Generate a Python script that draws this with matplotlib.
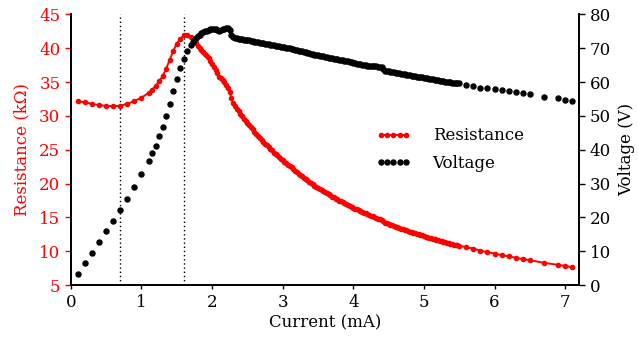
import matplotlib
matplotlib.use("Agg")
import matplotlib.pyplot as plt

# Data: sparse start, dense middle (every 0.025 mA), sparse tail
current_low = [0.1, 0.2, 0.3, 0.4, 0.5, 0.6, 0.7, 0.8, 0.9, 1.0, 1.1,
               1.15, 1.2, 1.25, 1.3, 1.35, 1.4, 1.45, 1.5, 1.55, 1.6, 1.65]
resistance_low = [32.2, 32.0, 31.8, 31.6, 31.5, 31.45, 31.5, 31.8, 32.2, 32.7, 33.4,
                  33.9, 34.4, 35.1, 35.9, 37.0, 38.3, 39.6, 40.7, 41.4, 41.9, 41.9]
voltage_low = [3.25, 6.5, 9.5, 12.7, 15.9, 19.0, 22.1, 25.4, 28.9, 32.8, 36.8,
               39.0, 41.2, 44.0, 46.8, 50.0, 53.6, 57.4, 61.0, 64.2, 66.9, 69.2]

current_mid = [
    1.700, 1.725, 1.750, 1.775, 1.800, 1.825, 1.850, 1.875, 1.900, 1.925,
    1.950, 1.975, 2.000, 2.025, 2.050, 2.075, 2.100, 2.125, 2.150, 2.175,
    2.200, 2.225, 2.250, 2.275, 2.300, 2.325, 2.350, 2.375, 2.400, 2.425,
    2.450, 2.475, 2.500, 2.525, 2.550, 2.575, 2.600, 2.625, 2.650, 2.675,
    2.700, 2.725, 2.750, 2.775, 2.800, 2.825, 2.850, 2.875, 2.900, 2.925,
    2.950, 2.975, 3.000, 3.025, 3.050, 3.075, 3.100, 3.125, 3.150, 3.175,
    3.200, 3.225, 3.250, 3.275, 3.300, 3.325, 3.350, 3.375, 3.400, 3.425,
    3.450, 3.475, 3.500, 3.525, 3.550, 3.575, 3.600, 3.625, 3.650, 3.675,
    3.700, 3.725, 3.750, 3.775, 3.800, 3.825, 3.850, 3.875, 3.900, 3.925,
    3.950, 3.975, 4.000, 4.025, 4.050, 4.075, 4.100, 4.125, 4.150, 4.175,
    4.200, 4.225, 4.250, 4.275, 4.300, 4.325, 4.350, 4.375, 4.400, 4.425,
    4.450, 4.475, 4.500, 4.525, 4.550, 4.575, 4.600, 4.625, 4.650, 4.675,
    4.700, 4.725, 4.750, 4.775, 4.800, 4.825, 4.850, 4.875, 4.900, 4.925,
    4.950, 4.975, 5.000, 5.025, 5.050, 5.075, 5.100, 5.125, 5.150, 5.175,
    5.200, 5.225, 5.250, 5.275, 5.300, 5.325, 5.350, 5.375, 5.400, 5.425,
    5.450, 5.475, 5.500]
resistance_mid = [
    41.6, 41.4, 41.1, 40.8, 40.4, 40.1, 39.7, 39.4, 39.1, 38.8,
    38.5, 38.1, 37.7, 37.3, 36.8, 36.3, 35.8, 35.6, 35.3, 35.0,
    34.6, 34.2, 33.5, 32.6, 31.9, 31.5, 31.1, 30.7, 30.3, 30.0,
    29.6, 29.3, 29.0, 28.7, 28.4, 28.1, 27.7, 27.4, 27.1, 26.8,
    26.5, 26.2, 25.9, 25.7, 25.4, 25.1, 24.9, 24.6, 24.4, 24.2,
    23.9, 23.7, 23.5, 23.2, 23.0, 22.8, 22.6, 22.4, 22.2, 21.9,
    21.7, 21.5, 21.3, 21.1, 20.9, 20.7, 20.5, 20.3, 20.1, 19.9,
    19.7, 19.5, 19.4, 19.2, 19.1, 18.9, 18.75, 18.6, 18.4, 18.25,
    18.1, 18.0, 17.8, 17.7, 17.5, 17.4, 17.25, 17.1, 17.0, 16.85,
    16.7, 16.6, 16.45, 16.3, 16.2, 16.1, 15.9, 15.8, 15.7, 15.6,
    15.45, 15.35, 15.25, 15.15, 15.05, 14.95, 14.85, 14.75, 14.65, 14.45,
    14.25, 14.15, 14.05, 13.95, 13.85, 13.75, 13.65, 13.55, 13.45, 13.35,
    13.3, 13.2, 13.1, 13.0, 12.9, 12.85, 12.75, 12.65, 12.55, 12.5,
    12.4, 12.35, 12.25, 12.15, 12.1, 12.0, 11.95, 11.85, 11.8, 11.7,
    11.65, 11.55, 11.5, 11.4, 11.35, 11.3, 11.2, 11.15, 11.1, 11.0,
    10.95, 10.9, 10.85]
voltage_mid = [
    71.0, 71.8, 72.5, 73.1, 73.6, 74.0, 74.4, 74.7, 75.0, 75.2,
    75.4, 75.6, 75.7, 75.8, 75.8, 75.3, 75.0, 75.5, 75.7, 75.8,
    75.9, 75.9, 75.5, 74.0, 73.3, 73.1, 72.9, 72.8, 72.7, 72.6,
    72.5, 72.45, 72.4, 72.35, 72.3, 72.1, 72.0, 71.9, 71.8, 71.7,
    71.6, 71.5, 71.4, 71.3, 71.2, 71.1, 71.0, 70.9, 70.8, 70.7,
    70.6, 70.5, 70.4, 70.3, 70.2, 70.1, 70.0, 69.9, 69.8, 69.6,
    69.5, 69.3, 69.2, 69.1, 69.0, 68.8, 68.7, 68.5, 68.4, 68.2,
    68.1, 68.0, 67.9, 67.8, 67.7, 67.6, 67.5, 67.3, 67.2, 67.1,
    67.0, 66.9, 66.8, 66.7, 66.6, 66.5, 66.4, 66.3, 66.2, 66.1,
    66.0, 65.9, 65.8, 65.6, 65.5, 65.4, 65.3, 65.2, 65.1, 65.0,
    64.9, 64.85, 64.8, 64.75, 64.7, 64.65, 64.6, 64.55, 64.5, 64.0,
    63.4, 63.3, 63.2, 63.1, 63.0, 62.9, 62.8, 62.7, 62.6, 62.5,
    62.4, 62.3, 62.2, 62.1, 62.0, 61.9, 61.8, 61.7, 61.6, 61.55,
    61.5, 61.4, 61.3, 61.2, 61.1, 61.0, 60.9, 60.8, 60.7, 60.6,
    60.5, 60.4, 60.3, 60.2, 60.1, 60.05, 60.0, 59.9, 59.8, 59.75,
    59.7, 59.65, 59.6]

current_high = [5.6, 5.7, 5.8, 5.9, 6.0, 6.1, 6.2, 6.3, 6.4, 6.5, 6.7, 6.9, 7.0, 7.1]
resistance_high = [10.6, 10.4, 10.1, 9.9, 9.65, 9.45, 9.25, 9.05, 8.85, 8.7, 8.3, 8.0, 7.85, 7.65]
voltage_high = [59.2, 58.9, 58.4, 58.2, 57.9, 57.6, 57.3, 57.0, 56.7, 56.4, 55.7, 55.2, 54.8, 54.4]

marker_lines = [0.7, 1.6]

RED = "#ff0000"
FONTSIZE = 12

current = current_low + current_mid + current_high
resistance = resistance_low + resistance_mid + resistance_high
voltage = voltage_low + voltage_mid + voltage_high

plt.rcParams.update({"font.family": "DejaVu Serif", "font.size": FONTSIZE})

fig = plt.figure(figsize=(6.38, 3.44), dpi=100)
ax = fig.add_axes([0.111, 0.171, 0.797, 0.787])
ax2 = ax.twinx()

for xv in marker_lines:
    ax.axvline(xv, color="black", linestyle=(0, (1, 2)), linewidth=1.0)

l1, = ax.plot(current, resistance, color=RED, marker="o", markersize=3.0,
              linewidth=1.4, label="Resistance", zorder=3)
l2, = ax2.plot(current, voltage, color="black", marker="o", markersize=3.6,
               linestyle="none", label="Voltage", zorder=3)

ax.set_xlim(0, 7.2)
ax.set_ylim(5, 45)
ax2.set_ylim(0, 80)
ax.set_xticks(range(0, 8))
ax.set_yticks(range(5, 46, 5))
ax2.set_yticks(range(0, 81, 10))

ax.set_xlabel("Current (mA)", labelpad=2)
ax.set_ylabel("Resistance (k\u03a9)", color=RED, labelpad=6)
ax2.set_ylabel("Voltage (V)", labelpad=5)

for a in (ax, ax2):
    a.spines["top"].set_visible(False)
    for s in a.spines.values():
        s.set_linewidth(1.3)
ax.tick_params(axis="y", colors=RED, direction="out", length=4, width=1)
ax.tick_params(axis="x", direction="out", length=3, width=1)
ax2.tick_params(axis="y", direction="out", length=4, width=1)
ax.spines["left"].set_color("black")

ax2.legend([l1, l2], ["Resistance", "Voltage"], loc="center left",
           bbox_to_anchor=(0.60, 0.50), frameon=False, numpoints=5,
           borderpad=0, borderaxespad=0,
           handlelength=2.1, handletextpad=1.3, labelspacing=0.65)

fig.savefig("out.png", dpi=100)
